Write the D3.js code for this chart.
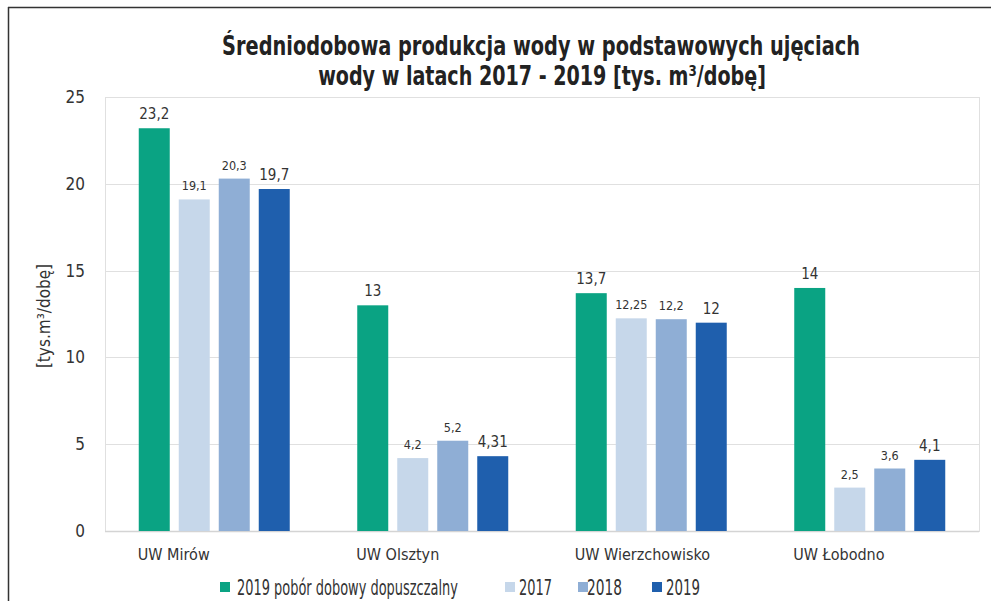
<!DOCTYPE html>
<html>
<head>
<meta charset="utf-8">
<script src="https://cdn.jsdelivr.net/npm/d3@7/dist/d3.min.js"></script>
<style>
  body { margin: 0; background: #fff; }
  text { font-family: "Liberation Sans Narrow", "DejaVu Sans Condensed", "Roboto Condensed", sans-serif; fill: #333; }
</style>
</head>
<body>
<script>
var categories = ["UW Mirów", "UW Olsztyn", "UW Wierzchowisko", "UW Łobodno"];
var seriesNames = ["2019 pobór dobowy dopuszczalny", "2017", "2018", "2019"];
var permitted2019 = [23.2, 13, 13.7, 14];
var values2017 = [19.1, 4.2, 12.25, 2.5];
var values2018 = [20.3, 5.2, 12.2, 3.6];
var values2019 = [19.7, 4.31, 12, 4.1];
var yTicks = [0, 5, 10, 15, 20, 25];

var seriesValues = [permitted2019, values2017, values2018, values2019];
var colors = ["#0aa383", "#c6d7ea", "#8faed5", "#1f5fad"];
var labelSizes = [15, 12.5, 12.5, 15];

var svg = d3.select("body").append("svg")
  .attr("width", 991)
  .attr("height", 601);

// squeeze a text horizontally so it takes the given width (condensed look)
function squeeze(g, tx, ty, width) {
  var t = g.select("text");
  var w = t.node().getComputedTextLength();
  g.attr("transform", "translate(" + tx + "," + ty + ") scale(" + (width / w) + ",1)");
}

// outer frame (only top and left visible)
svg.append("line").attr("x1", 8.5).attr("x2", 8.5).attr("y1", 7).attr("y2", 601)
  .attr("stroke", "#333").attr("stroke-width", 1.5);
svg.append("line").attr("x1", 8).attr("x2", 991).attr("y1", 7.5).attr("y2", 7.5)
  .attr("stroke", "#333").attr("stroke-width", 1.5);

var plotLeft = 105, plotRight = 979, plotTop = 97, plotBottom = 531;

var x = d3.scaleBand().domain(categories).range([plotLeft, plotRight]);
var y = d3.scaleLinear().domain([0, 25]).range([plotBottom, plotTop]);
var xs = d3.scaleBand().domain(d3.range(4)).range([0, 151]).paddingInner(0.225);

// plot frame and grid
svg.append("rect").attr("x", plotLeft + 0.5).attr("y", plotTop + 0.5)
  .attr("width", plotRight - plotLeft).attr("height", plotBottom - plotTop)
  .attr("fill", "none").attr("stroke", "#e0e0e0");

svg.selectAll("line.grid")
  .data(yTicks)
  .enter()
  .append("line")
  .attr("class", "grid")
  .attr("x1", plotLeft).attr("x2", plotRight)
  .attr("y1", function(d) { return Math.round(y(d)) + 0.5; })
  .attr("y2", function(d) { return Math.round(y(d)) + 0.5; })
  .attr("stroke", function(d) { return d === 0 ? "#d4d4d4" : "#e0e0e0"; })
  .attr("stroke-width", function(d) { return d === 0 ? 1.5 : 1; });

svg.selectAll("text.ytick")
  .data(yTicks)
  .enter()
  .append("text")
  .attr("class", "ytick")
  .attr("x", 85)
  .attr("y", function(d) { return y(d) + 6; })
  .attr("text-anchor", "end")
  .style("font-size", "17px")
  .text(function(d) { return d; });

svg.append("text")
  .attr("transform", "translate(50,316) rotate(-90)")
  .attr("text-anchor", "middle")
  .style("font-size", "17px")
  .text("[tys.m³/dobę]");

// bars
var groups = svg.selectAll("g.group")
  .data(categories)
  .enter()
  .append("g")
  .attr("class", "group")
  .attr("transform", function(d) { return "translate(" + (x(d) + x.bandwidth() / 2 - 75.5) + ",0)"; });

groups.each(function(cat, ci) {
  var g = d3.select(this);
  var rows = seriesValues.map(function(vals, si) { return { s: si, v: vals[ci] }; });
  g.selectAll("rect")
    .data(rows)
    .enter()
    .append("rect")
    .attr("x", function(d) { return xs(d.s); })
    .attr("y", function(d) { return y(d.v); })
    .attr("width", xs.bandwidth())
    .attr("height", function(d) { return plotBottom - y(d.v); })
    .style("fill", function(d) { return colors[d.s]; });
  g.selectAll("text.val")
    .data(rows)
    .enter()
    .append("text")
    .attr("class", "val")
    .attr("x", function(d) { return xs(d.s) + xs.bandwidth() / 2; })
    .attr("y", function(d) { return y(d.v) - 9; })
    .attr("text-anchor", "middle")
    .style("font-size", function(d) { return labelSizes[d.s] + "px"; })
    .text(function(d) { return String(d.v).replace(".", ","); });
  g.append("text")
    .attr("x", xs(0) - 1)
    .attr("y", 560)
    .style("font-size", "16px")
    .text(cat);
});

// title
var titleLines = ["Średniodobowa produkcja wody w podstawowych ujęciach", "wody w latach 2017 - 2019 [tys. m³/dobę]"];
var titlePos = [[541, 55, 638], [542, 85, 448]];
titleLines.forEach(function(line, i) {
  var g = svg.append("g");
  g.append("text")
    .attr("text-anchor", "middle")
    .style("font-size", "26px").style("font-weight", "bold").style("fill", "#222")
    .text(line);
  squeeze(g, titlePos[i][0], titlePos[i][1], titlePos[i][2]);
});

// legend
var legendX = [220, 505, 578, 652];
var legendTextX = [17, 14, 9, 14];
var legendLen = [221, 33, 35, 34];
seriesNames.forEach(function(name, i) {
  svg.append("rect")
    .attr("x", legendX[i]).attr("y", 582)
    .attr("width", 10).attr("height", 10)
    .style("fill", colors[i]);
  var g = svg.append("g");
  g.append("text")
    .style("font-size", "21px")
    .text(name);
  squeeze(g, legendX[i] + legendTextX[i], 595, legendLen[i]);
});
</script>
</body>
</html>
